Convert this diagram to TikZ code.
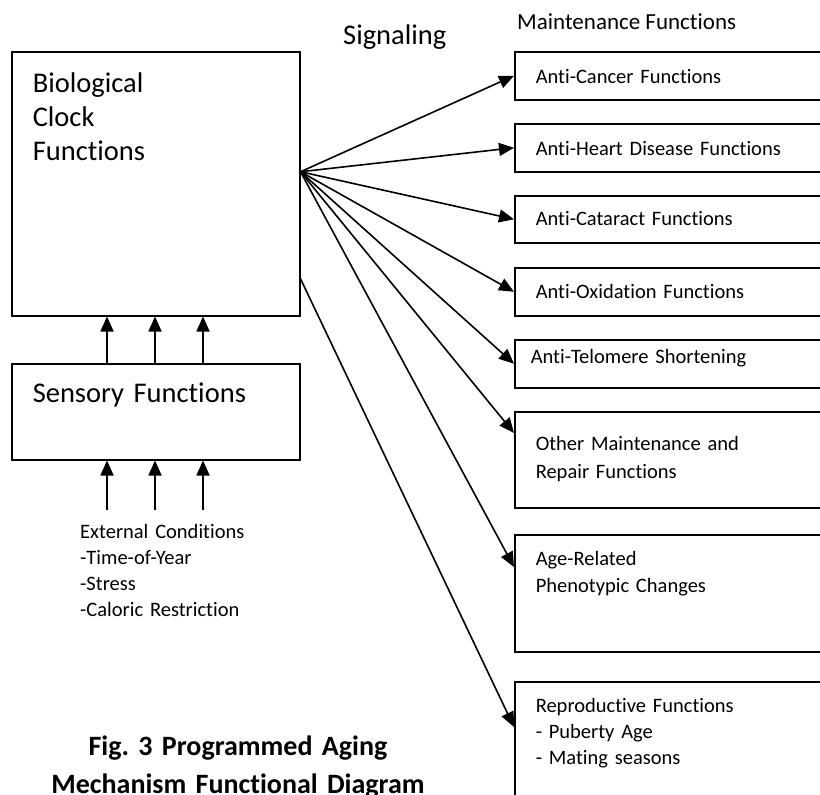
\documentclass[tikz,border=0pt]{standalone}
\usepackage{fontspec}
\setmainfont{Carlito}[Ligatures=NoCommon]
\usetikzlibrary{arrows.meta}
\frenchspacing

\begin{document}
\begin{tikzpicture}[x=1pt,y=-1pt,
    box/.style={draw, line width=1.5pt, anchor=north west, align=left, inner ysep=0pt},
    small/.style={font=\fontsize{20.5}{26}\selectfont},
    big/.style={font=\fontsize{28.5}{34}\selectfont},
    mbox/.style={box, small, inner xsep=21pt, text width=278pt},
    signal/.style={line width=1.6pt, -{Triangle[length=15pt,width=13pt]}}]
    \clip (0,0) rectangle (820,795);
    \fill[white] (0,0) rectangle (820,795);

    % Orologio biologico
    \node[box, big, inner xsep=21pt, text width=246pt, text height=41pt, text depth=223pt] (clock) at (11,51) {Biological\\Clock\\Functions};

    % Funzioni sensoriali
    \node[box, big, inner xsep=21pt, text width=246pt, text height=39pt, text depth=57pt] (sens) at (11,363) {Sensory Functions};
    \foreach \dx in {96,144,192}
      \draw[signal] ([xshift=\dx pt]sens.north west) -- ([xshift=\dx pt]clock.south west);

    % Condizioni esterne
    \node[small, anchor=base west, inner sep=0pt, text width=220pt, align=left] (ext) at (80,538) {External Conditions\\-Time-of-Year\\-Stress\\-Caloric Restriction};
    \foreach \dx in {96,144,192}
      \draw[signal] ([xshift=\dx pt, yshift=-49pt]sens.south west) -- ([xshift=\dx pt]sens.south west);

    % Titoli
    \node[big, anchor=base west, inner sep=0pt] (signaling) at (343,45) {Signaling};
    \node[font=\fontsize{23}{28}\selectfont, anchor=base west, inner sep=0pt] (maint) at (517,30) {Maintenance Functions};

    % Funzioni di mantenimento
    \node[mbox, text height=32pt, text depth=16pt] (m1) at (514,51) {Anti-Cancer Functions};
    \node[mbox, text height=32pt, text depth=16pt] (m2) at (514,123) {Anti-Heart Disease Functions};
    \node[mbox, text height=30pt, text depth=17pt] (m3) at (514,195) {Anti-Cataract Functions};
    \node[mbox, text height=31pt, text depth=17pt] (m4) at (514,267) {Anti-Oxidation Functions};
    \node[mbox, inner xsep=16pt, text width=288pt, text height=24pt, text depth=24pt] (m5) at (514,339) {Anti-Telomere Shortening};
    \node[mbox, font=\fontsize{20.5}{28}\selectfont, text height=39pt, text depth=57pt] (m6) at (514,411) {Other Maintenance and\\Repair Functions};
    \node[mbox, font=\fontsize{20.5}{27}\selectfont, text height=31pt, text depth=86pt] (m7) at (514,534) {Age-Related\\Phenotypic Changes};
    \node[mbox, text height=31pt, text depth=169pt] (m8) at (514,681) {Reproductive Functions\\- Puberty Age\\- Mating seasons};

    % Segnali
    \coordinate (src) at ([yshift=12pt]clock.east);
    \coordinate (src2) at ([yshift=-95pt]clock.east);
    \foreach \m in {m1,m2,m3,m4,m5}
      \draw[signal] (src) -- (\m.west);
    \draw[signal] (src) -- ([yshift=-22pt]m6.north west);
    \draw[signal] (src) -- ([yshift=-33pt]m7.north west);
    \draw[signal] (src2) -- ([yshift=-46pt]m8.north west);

    % Didascalia
    \node[font=\bfseries\fontsize{28}{38}\selectfont, anchor=base, inner sep=0pt, text width=420pt, align=center] (caption) at (238,755) {Fig. 3 Programmed Aging\\Mechanism Functional Diagram};
\end{tikzpicture}
\end{document}
